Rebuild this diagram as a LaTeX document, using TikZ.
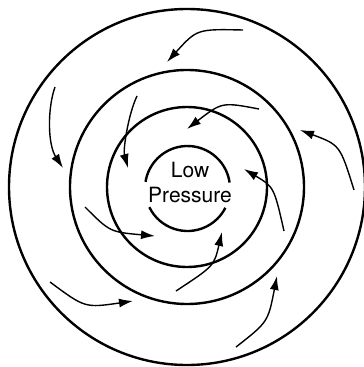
\documentclass[tikz,border=0pt]{standalone}
\usepackage{fontspec}
\usepackage{tikz}
\usetikzlibrary{arrows.meta}
\newfontfamily\lowfont{TeX Gyre Heros}

\begin{document}
\begin{tikzpicture}[
  x=1pt, y=-1pt,
  ring/.style={line width=2.4pt},
  flow/.style={-{Latex[length=14pt, width=9pt]}, line width=1.4pt},
  lbl/.style={font=\lowfont\fontsize{21}{25}\selectfont, inner sep=0pt, anchor=base},
]
\useasboundingbox (0,0) rectangle (364,367);

% ── Isobars ──
\coordinate (c) at (187,187);
\draw[ring] (c) circle[radius=178pt];
\draw[ring] (c) circle[radius=117pt];
\draw[ring] (c) circle[radius=80pt];

% inner ring, broken where the label runs through it
\coordinate (ci) at (187.5,188.5);
\draw[ring] (ci) ++(8:42.5pt) arc[start angle=8, end angle=171, radius=42.5pt];
\draw[ring] (ci) ++(206:42.5pt) arc[start angle=206, end angle=333, radius=42.5pt];

\node[lbl] (low) at (190,177) {Low};
\node[lbl] (pres) at (190,202) {Pressure};

% ── Inflow, counter-clockwise ──
\draw[flow] (243,30) .. controls (197,29) .. (167,62);
\draw[flow] (55,87) .. controls (47,110) and (48,145) .. (63,168);
\draw[flow] (137,96) .. controls (128,115) and (123,150) .. (128,168);
\draw[flow] (259,109) .. controls (222,102) .. (187,129);
\draw[flow] (354,190) .. controls (340,145) .. (300,130);
\draw[flow] (284,231) .. controls (274,187) .. (244,169);
\draw[flow] (85,207) .. controls (110,232) .. (155,236);
\draw[flow] (176,291) .. controls (214,266) .. (222,232);
\draw[flow] (50,282) .. controls (85,308) .. (133,301);
\draw[flow] (236,347) .. controls (268,322) .. (277,276);

\end{tikzpicture}
\end{document}
